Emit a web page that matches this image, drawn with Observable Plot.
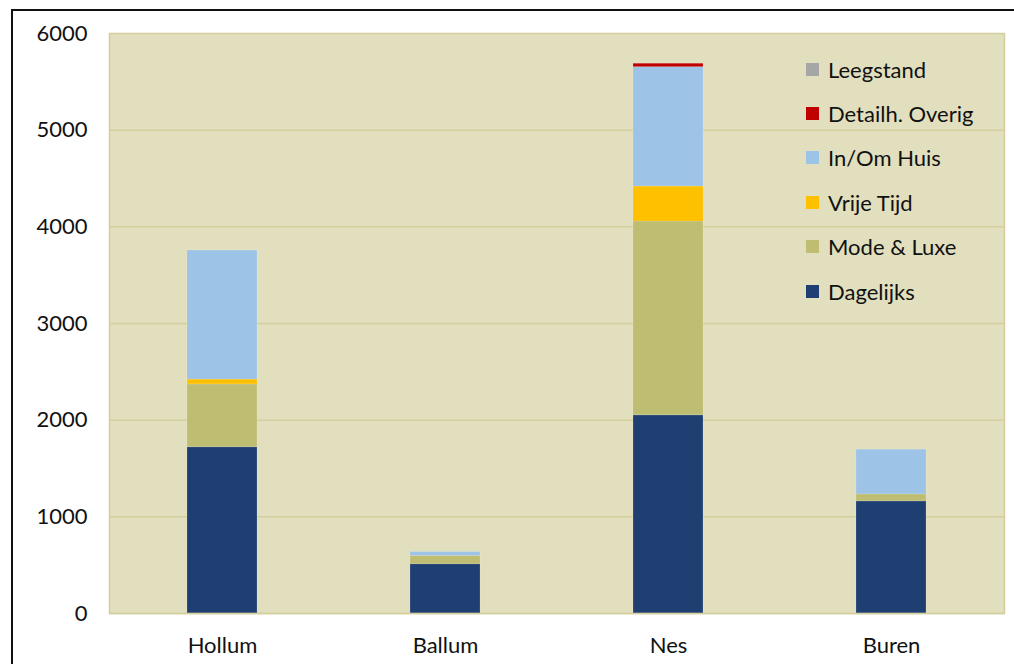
<!DOCTYPE html>
<html>
<head>
<meta charset="utf-8">
<script src="https://cdn.jsdelivr.net/npm/d3@7"></script>
<script src="https://cdn.jsdelivr.net/npm/@observablehq/plot@0.6"></script>
<style>
  html, body { margin: 0; padding: 0; background: #ffffff; }
  #wrap { position: relative; width: 1014px; height: 664px; overflow: hidden; font-family: Lato, "Open Sans", sans-serif; }
  #border { position: absolute; left: 11px; top: 9px; width: 1100px; height: 700px; border-top: 2px solid #111; border-left: 2px solid #111; }
  #chart { position: absolute; left: 0; top: 0; }
  #legend { position: absolute; left: 806px; top: 47px; font-size: 22px; color: #111; }
  #legend .item { display: flex; align-items: center; height: 44.4px; }
  #legend .sw { width: 13px; height: 13px; margin-right: 9px; }
</style>
</head>
<body>
<div id="wrap">
  <div id="border"></div>
  <div id="chart"></div>
  <div id="legend"></div>
</div>
<script>
// Retail floor space per village, stacked by branch
const villages = ["Hollum", "Ballum", "Nes", "Buren"];
const series = ["Dagelijks", "Mode & Luxe", "Vrije Tijd", "In/Om Huis", "Detailh. Overig", "Leegstand"];
const colors = ["#1f3f73", "#bfbd72", "#ffc000", "#9dc3e6", "#c00000", "#a6a6a6"];

const dagelijks     = [1720, 510, 2050, 1160];
const modeLuxe      = [650, 85, 2005, 72];
const vrijeTijd     = [50, 0, 362, 0];
const inOmHuis      = [1335, 40, 1235, 462];
const detailhOverig = [0, 0, 35, 0];
const leegstand     = [0, 0, 0, 0];

const yTicks = [0, 1000, 2000, 3000, 4000, 5000, 6000];

const seriesValues = [dagelijks, modeLuxe, vrijeTijd, inOmHuis, detailhOverig, leegstand];
const rows = [];
series.forEach((s, i) => {
  villages.forEach((v, j) => {
    rows.push({village: v, branch: s, value: seriesValues[i][j]});
  });
});

const chart = Plot.plot({
  width: 1014,
  height: 664,
  marginLeft: 109,
  marginRight: 10,
  marginTop: 33,
  marginBottom: 51,
  style: {fontFamily: "Lato, 'Open Sans', sans-serif", fontSize: "22px", color: "#111", background: "transparent"},
  x: {domain: villages, paddingInner: 0.687, paddingOuter: 0.3435, label: null, tickSize: 0, tickPadding: 24},
  y: {domain: [0, 6000], ticks: yTicks, tickFormat: d => String(d), label: null, tickSize: 0, tickPadding: 22},
  color: {domain: series, range: colors},
  marks: [
    Plot.frame({fill: "#e1dfbe", stroke: "#d2cf9c", strokeWidth: 1.5}),
    Plot.ruleY(yTicks.filter(d => d > 0 && d < 6000), {stroke: "#d3d09e", strokeWidth: 1.5}),
    Plot.barY(rows, Plot.stackY({
      x: "village",
      y: "value",
      fill: "branch",
      order: series,
      stroke: "#ffffff",
      strokeOpacity: 0.15,
      strokeWidth: 1,
      inset: 0
    })),
    Plot.ruleY([0], {stroke: "#d3d09e", strokeWidth: 1.5})
  ]
});
document.getElementById("chart").appendChild(chart);

// Legend, listed top-down in reverse stacking order
const legend = document.getElementById("legend");
series.slice().reverse().forEach((s) => {
  const item = document.createElement("div");
  item.className = "item";
  const sw = document.createElement("span");
  sw.className = "sw";
  sw.style.background = colors[series.indexOf(s)];
  const label = document.createElement("span");
  label.textContent = s;
  item.appendChild(sw);
  item.appendChild(label);
  legend.appendChild(item);
});
</script>
</body>
</html>
